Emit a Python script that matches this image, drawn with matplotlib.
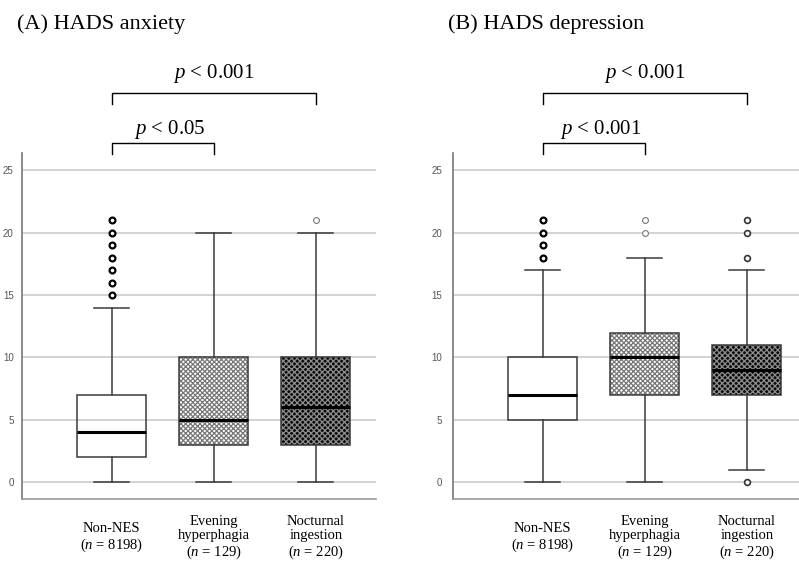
import matplotlib
matplotlib.use("Agg")
import matplotlib.pyplot as plt

plt.rcParams['mathtext.fontset'] = 'custom'
plt.rcParams['mathtext.it'] = 'Liberation Serif:italic'
plt.rcParams['mathtext.rm'] = 'Liberation Serif'
plt.rcParams['hatch.linewidth'] = 0.9

categories = ["Non-NES\n($n$ = 8198)", "Evening\nhyperphagia\n($n$ = 129)", "Nocturnal\ningestion\n($n$ = 220)"]

# Panel A: HADS anxiety
anx_whislo = [0, 0, 0]
anx_q1 = [2, 3, 3]
anx_med = [4, 5, 6]
anx_q3 = [7, 10, 10]
anx_whishi = [14, 20, 20]
anx_fliers = [[15, 16, 17, 18, 19, 20, 21], [], [21]]

# Panel B: HADS depression
dep_whislo = [0, 0, 1]
dep_q1 = [5, 7, 7]
dep_med = [7, 10, 9]
dep_q3 = [10, 12, 11]
dep_whishi = [17, 18, 17]
dep_fliers = [[18, 19, 20, 21], [20, 21], [0, 18, 20, 21]]

titles = ["(A) HADS anxiety", "(B) HADS depression"]
sig_top = ["$p$ < 0.001", "$p$ < 0.001"]
sig_low = ["$p$ < 0.05", "$p$ < 0.001"]
yticks = [0, 5, 10, 15, 20, 25]

fill_colors = ["white", "white", "#0a0a0a"]
hatch_colors = [None, "#777777", "#8e8e8e"]
hatch_styles = [None, "xxxxxxx", "xxxxxx"]
flier_styles = [
    [dict(mec="black", mew=1.6), None, dict(mec="#777777", mew=0.8)],
    [dict(mec="black", mew=1.6), dict(mec="#777777", mew=0.8), dict(mec="#333333", mew=1.2)],
]

fig = plt.figure(figsize=(7.99, 5.65), dpi=100)
W, H = 799, 565
ax_rects = [(22, 153, 354, 346), (453, 153, 354, 346)]
panels = [
    (anx_whislo, anx_q1, anx_med, anx_q3, anx_whishi, anx_fliers),
    (dep_whislo, dep_q1, dep_med, dep_q3, dep_whishi, dep_fliers),
]
positions = [1, 2, 3]
for p, (rect, data) in enumerate(zip(ax_rects, panels)):
    x0, ytop, w, h = rect
    ax = fig.add_axes([x0 / W, (H - ytop - h) / H, w / W, h / H])
    wl, q1, md, q3, wh, fl = data
    ax.set_xlim(0.12, 3.59)
    ax.set_ylim(-1.35, 26.4)
    for yv in yticks:
        ax.axhline(yv, color="#cfcfcf", lw=1.3, zorder=0)
    # hatched fills
    for i in range(3):
        if hatch_colors[i] is not None:
            ax.bar(positions[i], q3[i] - q1[i], bottom=q1[i], width=0.68,
                   color=fill_colors[i], hatch=hatch_styles[i],
                   edgecolor=hatch_colors[i], linewidth=0, zorder=1)
    stats = []
    for i in range(3):
        stats.append(dict(med=md[i], q1=q1[i], q3=q3[i], whislo=wl[i], whishi=wh[i], fliers=[]))
    ax.bxp(stats, positions=positions, widths=0.68, patch_artist=True, showfliers=False,
           boxprops=dict(facecolor="none", edgecolor="#3a3a3a", linewidth=1.1),
           whiskerprops=dict(color="#3a3a3a", linewidth=1.1),
           capprops=dict(color="#3a3a3a", linewidth=1.1),
           medianprops=dict(color="black", linewidth=2.2),
           capwidths=0.34, zorder=2)
    for i in range(3):
        if fl[i]:
            st = flier_styles[p][i]
            ax.plot([positions[i]] * len(fl[i]), fl[i], ls="none", marker="o",
                    ms=4.2, mfc="white", zorder=3, **st)
    ax.set_yticks(yticks)
    ax.set_yticklabels([str(v) for v in yticks], fontsize=7, color="#555555",
                       family="Liberation Sans")
    ax.set_xticks(positions)
    ax.set_xticklabels(categories, fontsize=10.5, family="Liberation Serif",
                       va="center", linespacing=1.15)
    ax.tick_params(axis="x", length=0, pad=28)
    ax.tick_params(axis="y", length=0, pad=6 if p == 0 else 8)
    for s in ["top", "right"]:
        ax.spines[s].set_visible(False)
    ax.spines["left"].set_color("#777777")
    ax.spines["bottom"].set_color("#999999")
    ax.spines["left"].set_linewidth(1.2)
    ax.spines["bottom"].set_linewidth(1.2)
    # significance brackets
    ax.plot([1, 1, 3, 3], [30.3, 31.2, 31.2, 30.3], color="black", lw=1.0, clip_on=False)
    ax.plot([1, 1, 2, 2], [26.3, 27.2, 27.2, 26.3], color="black", lw=1.0, clip_on=False)
    ax.text(2.0, 32.8, sig_top[p], ha="center", va="center", fontsize=15,
            family="Liberation Serif", clip_on=False)
    ax.text(1.57, 28.25, sig_low[p], ha="center", va="center", fontsize=15,
            family="Liberation Serif", clip_on=False)
    fig.text((x0 - 5) / W, 1 - 24 / H, titles[p], ha="left", va="center", fontsize=16,
             family="Liberation Serif")

fig.savefig("out.png", dpi=100)
